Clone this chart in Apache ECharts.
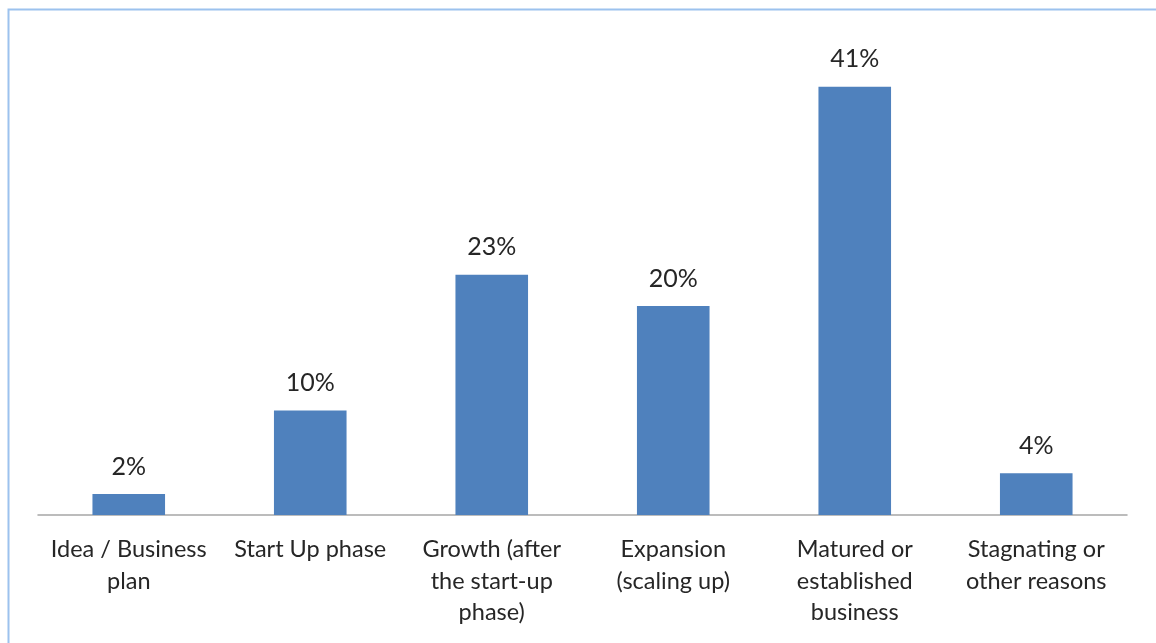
<!DOCTYPE html>
<html>
<head>
<meta charset="utf-8">
<script src="https://cdn.jsdelivr.net/npm/echarts@6/dist/echarts.min.js"></script>
<style>
  html, body { margin: 0; padding: 0; background: #ffffff; }
  #chart { width: 1156px; height: 643px; }
</style>
</head>
<body>
<div id="chart"></div>
<script>
// Stage of business (share of respondents, %)
const categories = [
  'Idea / Business\nplan',
  'Start Up phase',
  'Growth (after\nthe start-up\nphase)',
  'Expansion\n(scaling up)',
  'Matured or\nestablished\nbusiness',
  'Stagnating or\nother reasons'
];
const shares = [2, 10, 23, 20, 41, 4];

const FONT = 'Lato, "Open Sans", sans-serif';

const chart = echarts.init(document.getElementById('chart'), null, { renderer: 'canvas' });
chart.setOption({
  backgroundColor: '#ffffff',
  animation: false,
  graphic: [{
    type: 'rect',
    left: 6, top: 7,
    shape: { width: 1170, height: 660 },
    style: { fill: 'none', stroke: '#9cc2ee', lineWidth: 2 },
    silent: true
  }],
  grid: { left: 38, right: 29, top: 45, bottom: 128 },
  xAxis: {
    type: 'category',
    data: categories,
    axisLine: { lineStyle: { color: '#a6a6a6', width: 1.5 } },
    axisTick: { show: false },
    axisLabel: {
      interval: 0,
      margin: 19,
      color: '#262626',
      fontFamily: FONT,
      fontSize: 23.5,
      lineHeight: 31.5
    }
  },
  yAxis: {
    type: 'value',
    min: 0, max: 45,
    show: false,
    splitLine: { show: false }
  },
  series: [{
    type: 'bar',
    data: shares,
    barCategoryGap: '60%',
    itemStyle: { color: '#4f81bd' },
    label: {
      show: true,
      position: 'top',
      distance: 15,
      formatter: p => p.value + '%',
      color: '#262626',
      fontFamily: FONT,
      fontSize: 25
    }
  }]
});
</script>
</body>
</html>
